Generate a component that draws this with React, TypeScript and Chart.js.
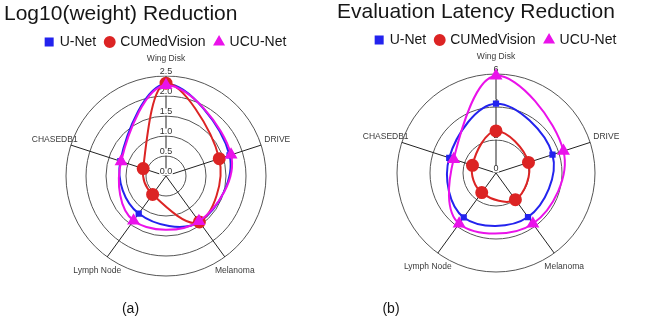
import React, { useEffect, useRef } from "react";
import { Chart, registerables } from "chart.js";

Chart.register(...registerables);

// ---------- data ----------
const categories = ["Wing Disk", "DRIVE", "Melanoma", "Lymph Node", "CHASEDB1"];
const seriesNames = ["U-Net", "CUMedVision", "UCU-Net"];

const weightUNet = [2.3, 1.67, 1.42, 1.16, 1.2];
const weightCUMed = [2.32, 1.4, 1.42, 0.57, 0.6];
const weightUCU = [2.27, 1.71, 1.4, 1.38, 1.18];

const latencyUNet = [4.2, 3.6, 3.3, 3.33, 2.98];
const latencyCUMed = [2.55, 2.07, 2.0, 1.47, 1.5];
const latencyUCU = [5.9, 4.3, 3.8, 3.8, 2.7];

const weightTicks = [0, 0.5, 1, 1.5, 2, 2.5];
const weightTickLabels = ["0.0", "0.5", "1.0", "1.5", "2.0", "2.5"];
const latencyTicks = [0, 2, 4, 6];
const latencyTickLabels = ["0", "2", "4", "6"];

const titles = ["Log10(weight) Reduction", "Evaluation Latency Reduction"];
const captions = ["(a)", "(b)"];

// ---------- styles ----------
const FONT = '"Liberation Sans", Arial, Helvetica, sans-serif';
const BLUE = "#2323ee";
const RED = "#dc2424";
const MAGENTA = "#ea12ea";

const radarText = {
  id: "radarText",
  beforeDatasetsDraw(chart: any, _args: any, opts: any) {
    const s = chart.scales.r;
    const ctx = chart.ctx;
    ctx.save();
    ctx.textAlign = "center";
    ctx.textBaseline = "middle";
    // tick labels
    ctx.font = `${opts.tickSize}px ${FONT}`;
    (opts.ticks as number[]).forEach((v, i) => {
      const p = s.getPointPositionForValue(0, v);
      const txt = opts.tickLabels[i];
      const w = ctx.measureText(txt).width;
      ctx.fillStyle = "#ffffff";
      ctx.fillRect(p.x - w / 2 - 0.5, p.y - opts.tickLift - 3.5, w + 1, 7);
      ctx.fillStyle = opts.tickColor;
      ctx.fillText(txt, p.x, p.y - opts.tickLift);
    });
    // point labels
    ctx.font = `${opts.labelSize}px ${FONT}`;
    ctx.fillStyle = opts.labelColor;
    chart.data.labels.forEach((c: string, i: number) => {
      const p = s.getPointPosition(i, s.drawingArea + opts.labelGap);
      ctx.fillText(c, p.x, p.y);
    });
    ctx.restore();
  },
};

const legendGap = {
  id: "legendGap",
  afterInit(chart: any, _args: any, opts: any) {
    const legend = chart.legend;
    if (!legend) return;
    const fit = legend.fit;
    legend.fit = function () {
      fit.call(this);
      this.height += opts.extra;
    };
  },
};

function makeDatasets(a: number[], b: number[], c: number[]) {
  return [
    {
      label: seriesNames[0],
      data: a,
      borderColor: BLUE,
      backgroundColor: BLUE,
      pointBackgroundColor: BLUE,
      pointBorderColor: BLUE,
      pointStyle: "rect",
      pointRadius: 3,
      borderWidth: 2,
      fill: false,
      tension: 0.38,
      order: 2,
    },
    {
      label: seriesNames[1],
      data: b,
      borderColor: RED,
      backgroundColor: RED,
      pointBackgroundColor: RED,
      pointBorderColor: RED,
      pointStyle: "circle",
      pointRadius: 5.5,
      borderWidth: 2,
      fill: false,
      tension: 0.38,
      order: 1,
    },
    {
      label: seriesNames[2],
      data: c,
      borderColor: MAGENTA,
      backgroundColor: MAGENTA,
      pointBackgroundColor: MAGENTA,
      pointBorderColor: MAGENTA,
      pointStyle: "triangle",
      pointRadius: 5.5,
      borderWidth: 2,
      fill: false,
      tension: 0.38,
      order: 0,
    },
  ];
}

type RadarProps = {
  title: string;
  data: [number[], number[], number[]];
  max: number;
  step: number;
  ticks: number[];
  tickLabels: string[];
  padding: { left: number; right: number; top: number; bottom: number };
  style: React.CSSProperties;
};

function RadarPanel(props: RadarProps) {
  const ref = useRef<HTMLCanvasElement | null>(null);
  useEffect(() => {
    if (!ref.current) return;
    const chart = new Chart(ref.current, {
      type: "radar",
      data: {
        labels: categories,
        datasets: makeDatasets(props.data[0], props.data[1], props.data[2]) as any,
      },
      options: {
        animation: false,
        responsive: false,
        events: [],
        layout: { padding: props.padding },
        scales: {
          r: {
            min: 0,
            max: props.max,
            beginAtZero: true,
            ticks: { display: false, stepSize: props.step },
            grid: { color: "#555555", lineWidth: 1, circular: true },
            angleLines: { color: "#222222", lineWidth: 1 },
            pointLabels: { display: false },
          },
        },
        plugins: {
          title: {
            display: true,
            text: props.title,
            align: "start",
            color: "#161616",
            font: { family: FONT, size: 21, weight: "normal", lineHeight: 1 },
            padding: { top: 4, bottom: 0 },
          },
          legend: {
            display: true,
            position: "top",
            labels: {
              usePointStyle: true,
              boxWidth: 7,
              boxHeight: 7,
              padding: 10,
              color: "#161616",
              font: { family: FONT, size: 14 },
              sort: (x: any, y: any) => x.datasetIndex - y.datasetIndex,
            },
          },
          tooltip: { enabled: false },
          legendGap: { extra: 17 },
          radarText: {
            ticks: props.ticks,
            tickLabels: props.tickLabels,
            tickSize: 9,
            tickLift: 4,
            tickColor: "#333333",
            labelSize: 8.5,
            labelColor: "#3a3a3a",
            labelGap: 17,
          },
        } as any,
      },
      plugins: [legendGap, radarText],
    });
    return () => chart.destroy();
  }, []);
  return <canvas ref={ref} width={332} height={318} style={props.style} />;
}

export default function App() {
  return (
    <div
      style={{
        position: "fixed",
        left: 0,
        top: 0,
        width: 664,
        height: 318,
        background: "#ffffff",
        overflow: "hidden",
      }}
    >
      <RadarPanel
        title={titles[0]}
        data={[weightUNet, weightCUMed, weightUCU]}
        max={2.5}
        step={0.5}
        ticks={weightTicks}
        tickLabels={weightTickLabels}
        padding={{ left: 4, right: 4, top: 0, bottom: 42 }}
        style={{ position: "absolute", left: 0, top: 0, width: 332, height: 318 }}
      />
      <RadarPanel
        title={titles[1]}
        data={[latencyUNet, latencyCUMed, latencyUCU]}
        max={6}
        step={2}
        ticks={latencyTicks}
        tickLabels={latencyTickLabels}
        padding={{ left: 7, right: 7, top: 0, bottom: 44 }}
        style={{ position: "absolute", left: 330, top: -2, width: 332, height: 318 }}
      />
      <span
        style={{
          position: "absolute",
          left: 130.5,
          top: 300,
          transform: "translateX(-50%)",
          font: `14px ${FONT}`,
          lineHeight: "16px",
          color: "#161616",
        }}
      >
        {captions[0]}
      </span>
      <span
        style={{
          position: "absolute",
          left: 391,
          top: 300,
          transform: "translateX(-50%)",
          font: `14px ${FONT}`,
          lineHeight: "16px",
          color: "#161616",
        }}
      >
        {captions[1]}
      </span>
    </div>
  );
}
